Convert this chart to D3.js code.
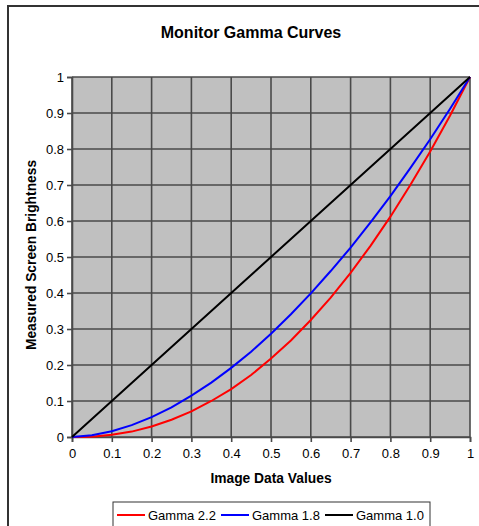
<!DOCTYPE html>
<html>
<head>
<meta charset="utf-8">
<script src="https://cdn.jsdelivr.net/npm/d3@7"></script>
<style>
  body { margin: 0; background: #fff; }
  svg { display: block; font-family: "Liberation Sans", Arial, sans-serif; }
</style>
</head>
<body>
<div id="chart"></div>
<script>
// image data values (x)
var xValues = [0, 0.05, 0.1, 0.15, 0.2, 0.25, 0.3, 0.35, 0.4, 0.45, 0.5,
               0.55, 0.6, 0.65, 0.7, 0.75, 0.8, 0.85, 0.9, 0.95, 1];
// measured brightness
var gamma22 = [0, 0.001, 0.006, 0.015, 0.029, 0.048, 0.071, 0.1, 0.133, 0.172, 0.218,
               0.268, 0.325, 0.387, 0.456, 0.531, 0.612, 0.7, 0.793, 0.893, 1];
var gamma18 = [0, 0.005, 0.016, 0.033, 0.055, 0.082, 0.115, 0.151, 0.192, 0.237, 0.287,
               0.341, 0.399, 0.461, 0.526, 0.596, 0.669, 0.747, 0.827, 0.912, 1];
var gamma10 = [0, 0.05, 0.1, 0.15, 0.2, 0.25, 0.3, 0.35, 0.4, 0.45, 0.5,
               0.55, 0.6, 0.65, 0.7, 0.75, 0.8, 0.85, 0.9, 0.95, 1];
var seriesNames = ["Gamma 2.2", "Gamma 1.8", "Gamma 1.0"];
var seriesColors = ["#ff0000", "#0000ff", "#000000"];
var tickValues = [0, 0.1, 0.2, 0.3, 0.4, 0.5, 0.6, 0.7, 0.8, 0.9, 1];

var width = 479, height = 526;
var plot = {left: 72, right: 470, top: 77, bottom: 437};

var svg = d3.select("#chart").append("svg")
  .attr("width", width).attr("height", height);

svg.append("rect")
  .attr("x", 8).attr("y", 6)
  .attr("width", 490).attr("height", 540)
  .attr("fill", "#fff")
  .attr("stroke", "#333").attr("stroke-width", 2);

var x = d3.scaleLinear().domain([0, 1]).range([plot.left, plot.right]);
var y = d3.scaleLinear().domain([0, 1]).range([plot.bottom, plot.top]);

svg.append("rect")
  .attr("x", plot.left).attr("y", plot.top)
  .attr("width", plot.right - plot.left).attr("height", plot.bottom - plot.top)
  .attr("fill", "#c0c0c0");

// grid
var grid = svg.append("g").attr("stroke", "#4a4a4a").attr("stroke-width", 1.6);
grid.selectAll(".gx").data(tickValues).enter().append("line")
  .attr("x1", d => x(d)).attr("x2", d => x(d))
  .attr("y1", plot.top).attr("y2", plot.bottom);
grid.selectAll(".gy").data(tickValues).enter().append("line")
  .attr("y1", d => y(d)).attr("y2", d => y(d))
  .attr("x1", plot.left).attr("x2", plot.right);

// axes
var xAxis = svg.append("g")
  .attr("transform", "translate(0," + plot.bottom + ")")
  .call(d3.axisBottom(x).tickValues(tickValues).tickSize(5).tickPadding(7)
    .tickFormat(d3.format("~g")));
var yAxis = svg.append("g")
  .attr("transform", "translate(" + plot.left + ",0)")
  .call(d3.axisLeft(y).tickValues(tickValues).tickSize(5).tickPadding(3)
    .tickFormat(d3.format("~g")));
[xAxis, yAxis].forEach(function(a) {
  a.select(".domain").attr("stroke", "#4a4a4a").attr("stroke-width", 1.6);
  a.selectAll(".tick line").attr("stroke", "#4a4a4a").attr("stroke-width", 1.6);
  a.selectAll(".tick text").attr("font-size", 13).attr("fill", "#000")
    .attr("font-family", "Liberation Sans, Arial, sans-serif");
});

// lines
var allSeries = [gamma22, gamma18, gamma10];
var line = d3.line()
  .x(function(d, i) { return x(xValues[i]); })
  .y(function(d) { return y(d); });
svg.selectAll(".series").data(allSeries).enter().append("path")
  .attr("class", "series")
  .attr("fill", "none")
  .attr("stroke", (d, i) => seriesColors[i])
  .attr("stroke-width", 2)
  .attr("d", line);

// titles
svg.append("text")
  .attr("x", 251).attr("y", 38)
  .attr("text-anchor", "middle")
  .attr("font-size", 16).attr("font-weight", "bold")
  .text("Monitor Gamma Curves");
svg.append("text")
  .attr("x", 271).attr("y", 483)
  .attr("text-anchor", "middle")
  .attr("font-size", 13.8).attr("font-weight", "bold")
  .text("Image Data Values");
svg.append("text")
  .attr("transform", "translate(36,255) rotate(-90)")
  .attr("text-anchor", "middle")
  .attr("font-size", 13.8).attr("font-weight", "bold")
  .text("Measured Screen Brightness");

// legend
var legend = svg.append("g");
legend.append("rect")
  .attr("x", 113).attr("y", 502)
  .attr("width", 317).attr("height", 40)
  .attr("fill", "#fff").attr("stroke", "#333").attr("stroke-width", 1);
var legendX = [117, 221, 325];
var items = legend.selectAll(".item").data(seriesNames).enter().append("g")
  .attr("transform", (d, i) => "translate(" + legendX[i] + ",515)");
items.append("line")
  .attr("x1", 0).attr("x2", 28).attr("y1", 0).attr("y2", 0)
  .attr("stroke", (d, i) => seriesColors[i]).attr("stroke-width", 2);
items.append("text")
  .attr("x", 31).attr("y", 5)
  .attr("font-size", 13)
  .text(d => d);
</script>
</body>
</html>
